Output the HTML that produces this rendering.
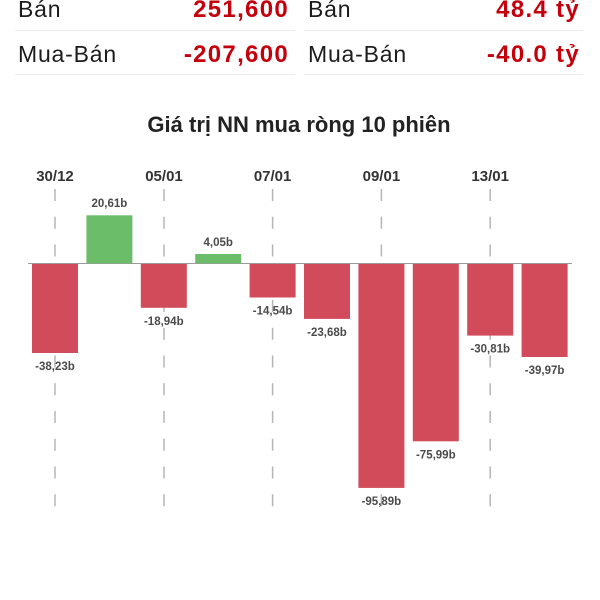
<!DOCTYPE html>
<html>
<head>
<meta charset="utf-8">
<style>
  html,body{margin:0;padding:0;background:#fff;}
  svg{display:block;}
  text{font-family:"Liberation Sans", Arial, sans-serif;}
</style>
</head>
<body>
<svg width="600" height="600" viewBox="0 0 600 600" xmlns="http://www.w3.org/2000/svg">
  <rect width="600" height="600" fill="#fff"/>
  <!-- header rows -->
  <text x="18" y="17" font-size="23" fill="#1c1c1c" letter-spacing="0.8">Bán</text>
  <text x="289" y="17" font-size="24" font-weight="bold" fill="#c4000c" text-anchor="end" letter-spacing="1.3">251,600</text>
  <text x="308" y="17" font-size="23" fill="#1c1c1c" letter-spacing="0.8">Bán</text>
  <text x="580" y="17" font-size="24" font-weight="bold" fill="#c4000c" text-anchor="end" letter-spacing="1.3">48.4 tỷ</text>
  <line x1="15" y1="30.5" x2="295" y2="30.5" stroke="#ececec" stroke-width="1"/>
  <line x1="304" y1="30.5" x2="583" y2="30.5" stroke="#ececec" stroke-width="1"/>

  <text x="18" y="62" font-size="23" fill="#1c1c1c" letter-spacing="0.8">Mua-Bán</text>
  <text x="289" y="62" font-size="24" font-weight="bold" fill="#c4000c" text-anchor="end" letter-spacing="1.3">-207,600</text>
  <text x="308" y="62" font-size="23" fill="#1c1c1c" letter-spacing="0.8">Mua-Bán</text>
  <text x="580" y="62" font-size="24" font-weight="bold" fill="#c4000c" text-anchor="end" letter-spacing="1.3">-40.0 tỷ</text>
  <line x1="15" y1="74.5" x2="295" y2="74.5" stroke="#ececec" stroke-width="1"/>
  <line x1="304" y1="74.5" x2="583" y2="74.5" stroke="#ececec" stroke-width="1"/>

  <!-- title -->
  <text x="299" y="132" font-size="22" font-weight="bold" fill="#222" text-anchor="middle">Giá trị NN mua ròng 10 phiên</text>

  <!-- date labels -->
  <g font-size="15" font-weight="bold" fill="#333" text-anchor="middle">
    <text x="55" y="181">30/12</text>
    <text x="164" y="181">05/01</text>
    <text x="272.6" y="181">07/01</text>
    <text x="381.4" y="181">09/01</text>
    <text x="490.2" y="181">13/01</text>
  </g>

  <!-- dashed gridlines -->
  <g stroke="#b5b5b5" stroke-width="1.5" stroke-dasharray="12 15.75">
    <line x1="55" y1="189" x2="55" y2="508"/>
    <line x1="164" y1="189" x2="164" y2="508"/>
    <line x1="272.6" y1="189" x2="272.6" y2="508"/>
    <line x1="381.4" y1="189" x2="381.4" y2="508"/>
    <line x1="490.2" y1="189" x2="490.2" y2="508"/>
  </g>

  <!-- zero line -->
  <line x1="28" y1="263.5" x2="572" y2="263.5" stroke="#9a9a9a" stroke-width="1"/>

  <!-- bars -->
  <g>
    <rect x="32" y="264" width="46" height="89" fill="#d14b5a"/>
    <rect x="86.4" y="215.3" width="46" height="48" fill="#6cbd6a"/>
    <rect x="140.8" y="264" width="46" height="43.8" fill="#d14b5a"/>
    <rect x="195.2" y="254" width="46" height="9.3" fill="#6cbd6a"/>
    <rect x="249.6" y="264" width="46" height="33.5" fill="#d14b5a"/>
    <rect x="304" y="264" width="46" height="54.9" fill="#d14b5a"/>
    <rect x="358.4" y="264" width="46" height="223.9" fill="#d14b5a"/>
    <rect x="412.8" y="264" width="46" height="177.3" fill="#d14b5a"/>
    <rect x="467.2" y="264" width="46" height="71.6" fill="#d14b5a"/>
    <rect x="521.6" y="264" width="46" height="93" fill="#d14b5a"/>
  </g>

  <!-- value labels -->
  <g font-size="11.5" font-weight="bold" fill="#4a4a4a" text-anchor="middle">
    <text x="55" y="370">-38,23b</text>
    <text x="109.4" y="207">20,61b</text>
    <text x="163.8" y="325">-18,94b</text>
    <text x="218.2" y="246">4,05b</text>
    <text x="272.6" y="314.5">-14,54b</text>
    <text x="327" y="336">-23,68b</text>
    <text x="381.4" y="505">-95,89b</text>
    <text x="435.8" y="458.5">-75,99b</text>
    <text x="490.2" y="352.5">-30,81b</text>
    <text x="544.6" y="374">-39,97b</text>
  </g>
</svg>
</body>
</html>
